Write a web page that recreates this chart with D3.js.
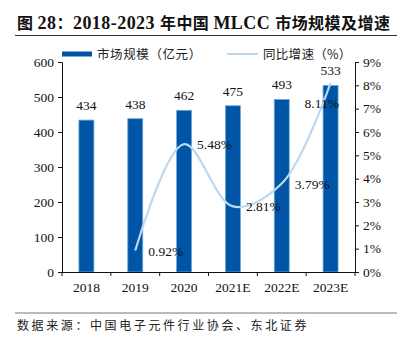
<!DOCTYPE html>
<html><head><meta charset="utf-8">
<script src="https://cdn.jsdelivr.net/npm/d3@7"></script>
<style>
body{margin:0;background:#fff;}
svg{display:block;}
</style></head>
<body>
<script>
const categories = ["2018","2019","2020","2021E","2022E","2023E"];
const marketSize = [434,438,462,475,493,533];
const growth = [null,0.92,5.48,2.81,3.79,8.11];
const leftTicks = [0,100,200,300,400,500,600];
const rightTicks = [0,1,2,3,4,5,6,7,8,9];
const titleParts = [["图 ","cjk"],["28","lat"],["：","cjk"],["2018-2023 ","lat"],["年中国 ","cjk"],["MLCC ","lat"],["市场规模及增速","cjk"]];
const sourceText = "数据来源：中国电子元件行业协会、东北证券";
const legendLabels = ["市场规模（亿元）","同比增速（%）"];

const W=407,H=339;
const serif = "'Liberation Serif','Times New Roman',serif";
const cjk = "'Noto Sans CJK SC','Noto Sans',sans-serif";
const svg = d3.select("body").append("svg").attr("width",W).attr("height",H);

const L=62,R=355,T=62,B=272;
const x = d3.scaleBand().domain(categories).range([L,R]);
const y = d3.scaleLinear().domain([0,600]).range([B,T]);
const y2 = d3.scaleLinear().domain([0,9]).range([B,T]);

// title
const tt = svg.append("text").attr("x",17).attr("y",29)
  .attr("font-weight","bold").attr("font-size",16.5).attr("fill","#111")
  .attr("textLength",373).attr("lengthAdjust","spacing");
titleParts.forEach(([s,f])=>{
  tt.append("tspan").attr("font-family",f==="cjk"?cjk:serif)
    .attr("font-size",f==="cjk"?16:18).text(s);
});
svg.append("line").attr("x1",15).attr("x2",397).attr("y1",35.5).attr("y2",35.5)
  .attr("stroke","#333").attr("stroke-width",1.2);

// bars
const bw = 15;
svg.append("g").selectAll("rect").data(marketSize).join("rect")
  .attr("x",(d,i)=>x(categories[i])+x.bandwidth()/2-bw/2)
  .attr("y",d=>y(d)).attr("width",bw).attr("height",d=>B-y(d))
  .attr("fill","#0055A6").attr("stroke","#6FA8DC").attr("stroke-width",0.8);

svg.append("g").selectAll("text").data(marketSize).join("text")
  .attr("x",(d,i)=>x(categories[i])+x.bandwidth()/2)
  .attr("y",d=>y(d)-10).attr("text-anchor","middle")
  .attr("font-family",serif).attr("font-size",13.5).attr("fill","#111")
  .text(d=>d);

// line
const pts = growth.map((g,i)=>({g,c:categories[i]})).filter(d=>d.g!=null);
const line = d3.line().x(d=>x(d.c)+x.bandwidth()/2).y(d=>y2(d.g))
  .curve(d3.curveCatmullRom.alpha(0.5));
svg.append("path").datum(pts).attr("d",line).attr("fill","none")
  .attr("stroke","#BDD7EE").attr("stroke-width",2.2);

svg.append("g").selectAll("text").data(pts).join("text")
  .attr("x",d=>x(d.c)+x.bandwidth()/2+(d.g>8?-26:13))
  .attr("y",d=>y2(d.g)+(d.g>8?25:5))
  .attr("font-family",serif).attr("font-size",13.5).attr("fill","#111")
  .text(d=>d.g.toFixed(2)+"%");

// axes
const gl = svg.append("g").attr("transform",`translate(${L},0)`)
  .call(d3.axisLeft(y).tickValues(leftTicks).tickSize(4).tickPadding(4));
const gr = svg.append("g").attr("transform",`translate(${R},0)`)
  .call(d3.axisRight(y2).tickValues(rightTicks).tickSize(4).tickPadding(4).tickFormat(d=>d+"%"));
const gb = svg.append("g").attr("transform",`translate(0,${B})`)
  .call(d3.axisBottom(x).tickSize(0).tickPadding(10));
// category boundary ticks
svg.append("g").selectAll("line").data(categories.concat(["end"])).join("line")
  .attr("x1",(d,i)=>L+i*x.bandwidth()).attr("x2",(d,i)=>L+i*x.bandwidth())
  .attr("y1",B).attr("y2",B+4).attr("stroke","#111");
[gl,gr,gb].forEach(g=>{
  g.selectAll("path.domain").attr("stroke","#111");
  g.selectAll(".tick line").attr("stroke","#111");
  g.selectAll("text").attr("font-family",serif).attr("font-size",13.5).attr("fill","#111");
});

// legend
svg.append("rect").attr("x",62).attr("y",51.5).attr("width",30).attr("height",5).attr("fill","#0055A6");
svg.append("text").attr("x",97).attr("y",58.5).attr("font-family",cjk).attr("font-size",12.5)
  .attr("fill","#222").attr("letter-spacing",0.6).text(legendLabels[0]);
svg.append("line").attr("x1",227).attr("x2",258).attr("y1",54).attr("y2",54)
  .attr("stroke","#BDD7EE").attr("stroke-width",2);
svg.append("text").attr("x",263).attr("y",58.5).attr("font-family",cjk).attr("font-size",12.5)
  .attr("fill","#222").attr("letter-spacing",0.3).text(legendLabels[1]);

// source
svg.append("line").attr("x1",15).attr("x2",397).attr("y1",313).attr("y2",313)
  .attr("stroke","#777").attr("stroke-width",1);
svg.append("text").attr("x",17).attr("y",330).attr("font-family",cjk).attr("font-size",12)
  .attr("fill","#222").attr("letter-spacing",2.6).text(sourceText);
</script>
</body></html>
